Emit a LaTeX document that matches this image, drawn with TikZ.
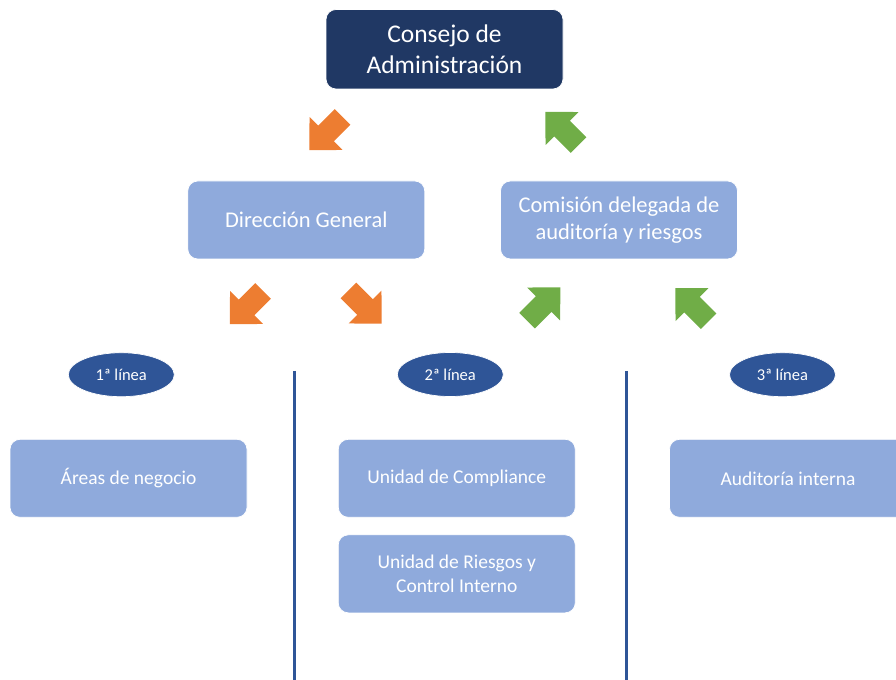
\documentclass[tikz,border=0pt]{standalone}
\usepackage{fontspec}
\setmainfont{Carlito}
\usepackage{xcolor}
\usetikzlibrary{shapes,positioning,calc}
\definecolor{navy}{HTML}{203864}
\definecolor{boxblue}{HTML}{8FAADC}
\definecolor{lineblue}{HTML}{2F5597}
\definecolor{arrorange}{HTML}{ED7D31}
\definecolor{arrgreen}{HTML}{70AD47}

\begin{document}
\begin{tikzpicture}[
    unit/.style={rectangle, rounded corners=0.2cm, fill=boxblue, draw=white, line width=0.4pt,
        text=white, minimum width=4.74cm, minimum height=1.56cm, inner sep=0pt, align=center,
        font=\fontsize{11.1}{13.5}\selectfont},
    topunit/.style={unit, font=\fontsize{12.8}{15.2}\selectfont},
    board/.style={unit, fill=navy, minimum height=1.59cm, font=\fontsize{14.5}{17.4}\selectfont},
    linelabel/.style={ellipse, fill=lineblue, draw=white, line width=0.4pt, text=white,
        minimum width=2.12cm, minimum height=0.88cm, inner sep=0pt,
        font=\fontsize{9.4}{11}\selectfont},
    sepline/.style={lineblue, line width=1.7pt},
    pics/blockarrow/.style={code={
        \fill[#1] (0.47,0) -- (0,0.466) -- (0,0.22) -- (-0.47,0.22) -- (-0.47,-0.22)
            -- (0,-0.22) -- (0,-0.466) -- cycle;}}
]
    \useasboundingbox (0,0) rectangle (17.92,-13.6);

    % Top level
    \node [board] (consejo) at (8.89,-0.985) {Consejo de\\Administración};

    % Second level
    \node [topunit] (direccion) at (6.125,-4.4) {Dirección General};
    \node [topunit] (comision) at (12.38,-4.4) {Comisión delegada de\\auditoría y riesgos};

    % Arrows
    \pic [rotate=225] at (6.52,-2.67) {blockarrow=arrorange};
    \pic [rotate=135] at (11.24,-2.57) {blockarrow=arrgreen};
    \pic [rotate=225] at (4.93,-6.15) {blockarrow=arrorange};
    \pic [rotate=315] at (7.30,-6.14) {blockarrow=arrorange};
    \pic [rotate=45] at (10.874,-6.08) {blockarrow=arrgreen};
    \pic [rotate=135] at (13.84,-6.094) {blockarrow=arrgreen};

    % Lines of defence
    \node [linelabel] (linea1) at (2.426,-7.494) {1ª línea};
    \node [linelabel] (linea2) at (9.006,-7.49) {2ª línea};
    \node [linelabel] (linea3) at (15.65,-7.494) {3ª línea};

    % Units
    \node [unit] (areas) at (2.57,-9.566) {Áreas de negocio};
    \node [unit] (compliance) at (9.135,-9.566) {Unidad de Compliance};
    \node [unit] (riesgos) at (9.135,-11.477) {Unidad de Riesgos y\\Control Interno};
    \node [unit] (auditoria) at (15.76,-9.566) {Auditoría interna};

    % Separators
    \coordinate (sepAtop) at (5.887,-7.42);
    \coordinate (sepAbot) at (5.887,-13.7);
    \coordinate (sepBtop) at (12.533,-7.42);
    \coordinate (sepBbot) at (12.533,-13.7);
    \draw [sepline] (sepAtop) -- (sepAbot);
    \draw [sepline] (sepBtop) -- (sepBbot);
\end{tikzpicture}
\end{document}
